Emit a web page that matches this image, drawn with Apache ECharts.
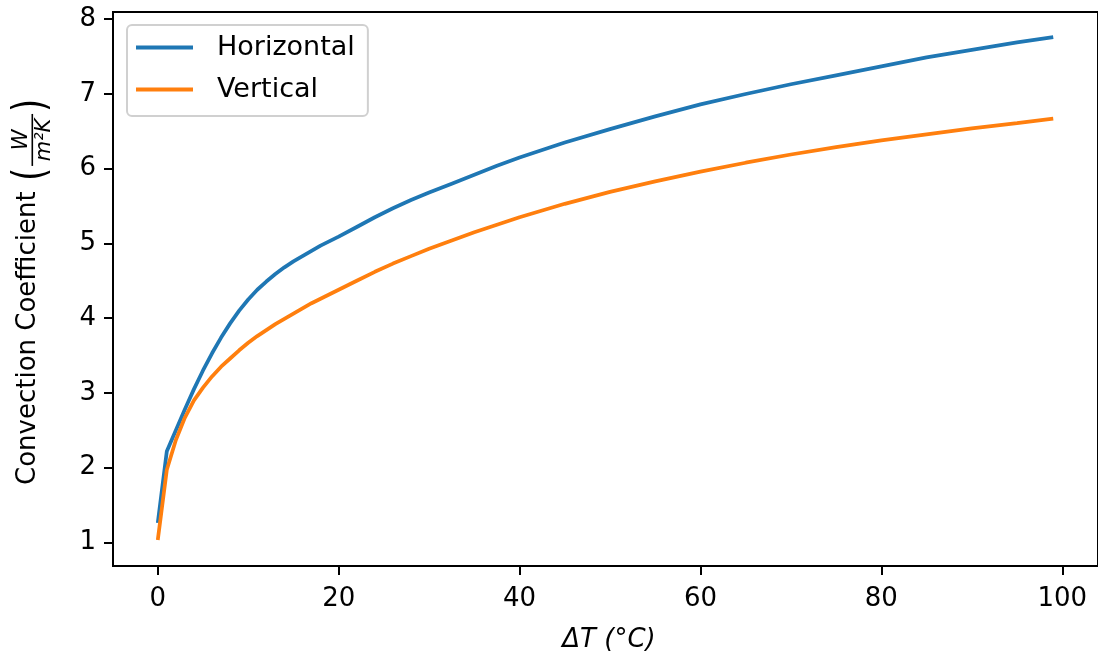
<!DOCTYPE html>
<html>
<head>
<meta charset="utf-8">
<script src="https://cdn.jsdelivr.net/npm/echarts@6/dist/echarts.min.js"></script>
<style>
html,body{margin:0;padding:0;background:#fff;}
#chart{width:1098px;height:658px;}
</style>
</head>
<body>
<div id="chart"></div>
<script>
// Data
const deltaT = [0,1,2,3,4,5,6,7,8,9,10,11,12,13,14,15,16,17,18,19,20,22,24,26,28,30,32.5,35,37.5,40,45,50,55,60,65,70,75,80,85,90,95,99];
const horizontal = [1.26,2.22,2.50,2.78,3.05,3.30,3.53,3.74,3.93,4.10,4.25,4.38,4.49,4.59,4.68,4.76,4.83,4.90,4.97,5.03,5.09,5.22,5.35,5.47,5.58,5.68,5.80,5.92,6.04,6.15,6.35,6.53,6.70,6.86,7.00,7.13,7.25,7.37,7.49,7.59,7.69,7.76];
const vertical = [1.03,1.97,2.37,2.67,2.90,3.07,3.22,3.35,3.46,3.57,3.67,3.76,3.84,3.92,3.99,4.06,4.13,4.20,4.26,4.32,4.38,4.50,4.62,4.73,4.83,4.93,5.04,5.15,5.25,5.35,5.53,5.69,5.83,5.96,6.08,6.19,6.29,6.38,6.46,6.54,6.61,6.67];
const xTicks = [0,20,40,60,80,100];
const yTicks = [1,2,3,4,5,6,7,8];
const seriesNames = ['Horizontal','Vertical'];

const FONT = 'DejaVu Sans';
const FS = 26;

const chart = echarts.init(document.getElementById('chart'), null, {renderer:'canvas'});

// y-axis label (rotated group): screen x = local y, screen y = Y0 - local x
const Y0 = 485;
const L = FS * 11.31;
const fs = L + 10;

const option = {
  animation: false,
  backgroundColor: '#fff',
  grid: {
    left: 113, top: 12, right: -12, bottom: 92,
    show: true, borderColor: '#000', borderWidth: 2, backgroundColor: 'transparent'
  },
  legend: {
    orient: 'vertical',
    left: 127, top: 25,
    padding: [9, 13, 13, 9],
    itemGap: 15,
    itemWidth: 57, itemHeight: 4,
    icon: 'rect',
    borderColor: '#d0d0d0', borderWidth: 2, borderRadius: 5,
    backgroundColor: 'rgba(255,255,255,0.8)',
    textStyle: {fontFamily: FONT, fontSize: 27, color: '#000', padding: [0,0,0,19], lineHeight: 27},
    data: seriesNames
  },
  xAxis: {
    type: 'value', min: -4.95, max: 103.95,
    axisLine: {show: false, onZero: false},
    splitLine: {show: false},
    axisTick: {show: true, inside: false, length: 9, lineStyle: {color: '#000', width: 2}, customValues: xTicks},
    axisLabel: {fontFamily: FONT, fontSize: FS, color: '#000', margin: 20, customValues: xTicks}
  },
  yAxis: {
    type: 'value', min: 0.683, max: 8.097,
    axisLine: {show: false, onZero: false},
    splitLine: {show: false},
    axisTick: {show: true, inside: false, length: 9, lineStyle: {color: '#000', width: 2}, customValues: yTicks},
    axisLabel: {fontFamily: FONT, fontSize: FS, color: '#000', margin: 17, customValues: yTicks}
  },
  graphic: [
    {
      type: 'text', x: 609, y: 640,
      style: {text: 'ΔT (°C)', font: 'italic ' + FS + 'px "' + FONT + '"', fill: '#000', align: 'center', verticalAlign: 'middle'}
    },
    {
      type: 'group', x: 0, y: Y0, rotation: Math.PI/2,
      children: [
        {type: 'text', x: 0, y: 28, style: {text: 'Convection Coefficient', font: FS + 'px "' + FONT + '"', fill: '#000', align: 'left', verticalAlign: 'middle'}},
        {type: 'text', x: fs, y: 33, scaleY: 1.3, style: {text: '(', font: '34px "' + FONT + '"', fill: '#000', align: 'left', verticalAlign: 'middle'}},
        {type: 'text', x: fs + 41, y: 22, style: {text: 'W', font: 'italic 21px "' + FONT + '"', fill: '#000', align: 'center', verticalAlign: 'middle'}},
        {type: 'rect', shape: {x: fs + 15, y: 31.5, width: 52, height: 1.6}, style: {fill: '#000'}},
        {type: 'text', x: fs + 41, y: 45, style: {text: 'm²K', font: 'italic 21px "' + FONT + '"', fill: '#000', align: 'center', verticalAlign: 'middle'}},
        {type: 'text', x: fs + 69, y: 33, scaleY: 1.3, style: {text: ')', font: '34px "' + FONT + '"', fill: '#000', align: 'left', verticalAlign: 'middle'}}
      ]
    }
  ],
  series: [
    {
      name: seriesNames[0], type: 'line', showSymbol: false, symbol: 'none',
      data: deltaT.map((x, i) => [x, horizontal[i]]),
      lineStyle: {color: '#1f77b4', width: 3.75}, itemStyle: {color: '#1f77b4'}
    },
    {
      name: seriesNames[1], type: 'line', showSymbol: false, symbol: 'none',
      data: deltaT.map((x, i) => [x, vertical[i]]),
      lineStyle: {color: '#ff7f0e', width: 3.75}, itemStyle: {color: '#ff7f0e'}
    }
  ]
};
chart.setOption(option);
</script>
</body>
</html>
